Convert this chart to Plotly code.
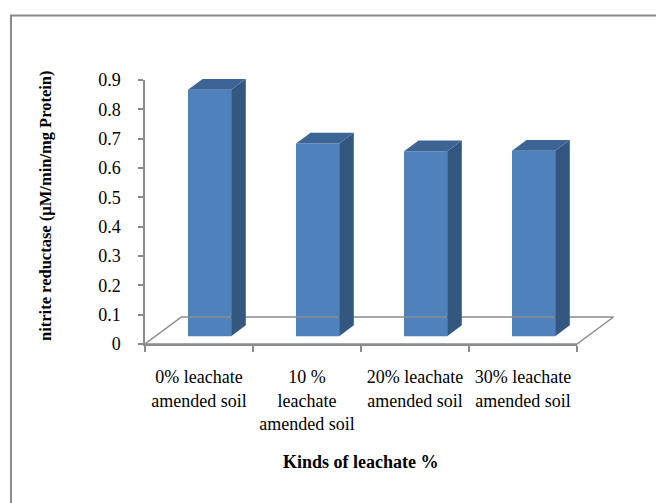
import plotly.graph_objects as go

# ---- data -------------------------------------------------------------
categories = [
    "0% leachate<br>amended soil",
    "10 %<br>leachate<br>amended soil",
    "20% leachate<br>amended soil",
    "30% leachate<br>amended soil",
]
values = [0.84, 0.657, 0.63, 0.632]
y_ticks = [0, 0.1, 0.2, 0.3, 0.4, 0.5, 0.6, 0.7, 0.8, 0.9]
y_title = "nitrite reductase (µM/min/mg Protein)"
x_title = "Kinds of leachate %"

# ---- geometry ---------------------------------------------------------
W, H = 656, 503
PL, PR, PT, PB = 145, 577, 80, 344          # front value/category box (px)
YMAX = y_ticks[-1]
n = len(categories)
px_cat = (PR - PL) / n
px_unit = (PB - PT) / YMAX

# drawing box (slightly larger so the 3-D depth is not clipped)
DL, DR, DT, DB = PL, 650, 55, 352

def fx(px):
    return px / W

def fy(py):
    return 1 - py / H

# oblique depth of the floor, in data units
Dx = 36.5 / px_cat
Dy = 27.0 / px_unit
f0, f1 = 0.29, 0.69          # bar front / back as fraction of floor depth
half_w = 0.2                  # half bar width in category units

FRONT = "#4F81BD"
SIDE = "#34577F"
TOP = "#3C6596"
GRAY = "#8C8C8C"
FONT = "Liberation Serif"

fig = go.Figure()

# floor
fx0, fx1 = -0.5, n - 0.5
fig.add_trace(go.Scatter(
    x=[fx0, fx0 + Dx, fx1 + Dx, fx1, fx0],
    y=[0, Dy, Dy, 0, 0],
    mode="lines", line=dict(color=GRAY, width=1.5),
    xaxis="x2", yaxis="y2", hoverinfo="skip", showlegend=False,
))

# bars: front faces
base = f0 * Dy
xs = [i + f0 * Dx for i in range(n)]
fig.add_trace(go.Bar(
    x=xs, y=values, base=base, width=2 * half_w,
    marker=dict(color=FRONT, line=dict(width=0)),
    xaxis="x2", yaxis="y2", showlegend=False,
))

# bars: side and top faces
ddx = (f1 - f0) * Dx
ddy = (f1 - f0) * Dy
for xc, v in zip(xs, values):
    xl, xr = xc - half_w, xc + half_w
    yt = base + v
    fig.add_trace(go.Scatter(
        x=[xr, xr + ddx, xr + ddx, xr, xr],
        y=[base, base + ddy, yt + ddy, yt, base],
        fill="toself", fillcolor=SIDE, mode="lines", line=dict(width=0),
        xaxis="x2", yaxis="y2", hoverinfo="skip", showlegend=False,
    ))
    fig.add_trace(go.Scatter(
        x=[xl, xl + ddx, xr + ddx, xr, xl],
        y=[yt, yt + ddy, yt + ddy, yt, yt],
        fill="toself", fillcolor=TOP, mode="lines", line=dict(width=0),
        xaxis="x2", yaxis="y2", hoverinfo="skip", showlegend=False,
    ))

# invisible anchor trace for the visible axes
fig.add_trace(go.Scatter(x=[0], y=[0], mode="markers", marker=dict(opacity=0),
                         hoverinfo="skip", showlegend=False))

fig.update_layout(
    template="none",
    width=W, height=H,
    margin=dict(l=0, r=0, t=0, b=0, pad=0),
    paper_bgcolor="white", plot_bgcolor="rgba(0,0,0,0)",
    font=dict(family=FONT, size=18, color="black"),
    showlegend=False,
    xaxis=dict(
        domain=[fx(PL), fx(PR)], range=[-0.5, n - 0.5], anchor="y",
        automargin=False,
        tickvals=list(range(n)), ticktext=categories, ticks="",
        ticklabelstandoff=16,
        showline=True, linecolor=GRAY, linewidth=1.5,
        showgrid=False, zeroline=False, fixedrange=True,
        minor=dict(tickvals=[i - 0.5 for i in range(n + 1)], ticks="outside",
                   ticklen=6, tickcolor=GRAY, tickwidth=1.5, showgrid=False),
        tickfont=dict(size=18),
    ),
    yaxis=dict(
        domain=[fy(PB), fy(PT)], range=[0, YMAX], anchor="x",
        automargin=False,
        tickvals=y_ticks, ticktext=[f"{t:g}" for t in y_ticks],
        ticks="outside", ticklen=5, tickcolor=GRAY, tickwidth=1.5,
        showline=True, linecolor=GRAY, linewidth=1.5,
        showgrid=False, zeroline=False, fixedrange=True,
        ticklabelstandoff=14, tickfont=dict(size=18),
    ),
    xaxis2=dict(
        domain=[fx(DL), fx(DR)], anchor="y2", automargin=False,
        range=[-0.5, -0.5 + (DR - DL) / px_cat], visible=False,
    ),
    yaxis2=dict(
        domain=[fy(DB), fy(DT)], anchor="x2", automargin=False,
        range=[-(DB - PB) / px_unit, YMAX + (PT - DT) / px_unit], visible=False,
    ),
    annotations=[
        dict(text=f"<b>{y_title}</b>", x=fx(45), y=fy(206), xref="paper", yref="paper",
             textangle=-90, showarrow=False, xanchor="center", yanchor="middle",
             font=dict(size=16.5, family=FONT)),
        dict(text=f"<b>{x_title}</b>", x=fx(361), y=fy(462), xref="paper", yref="paper",
             showarrow=False, xanchor="center", yanchor="middle",
             font=dict(size=18, family=FONT)),
    ],
    shapes=[
        dict(type="rect", xref="paper", yref="paper",
             x0=fx(11), y0=fy(15.5), x1=1.2, y1=-0.2,
             line=dict(color="#8A8A8A", width=2)),
    ],
)

fig.write_html("out.html")
